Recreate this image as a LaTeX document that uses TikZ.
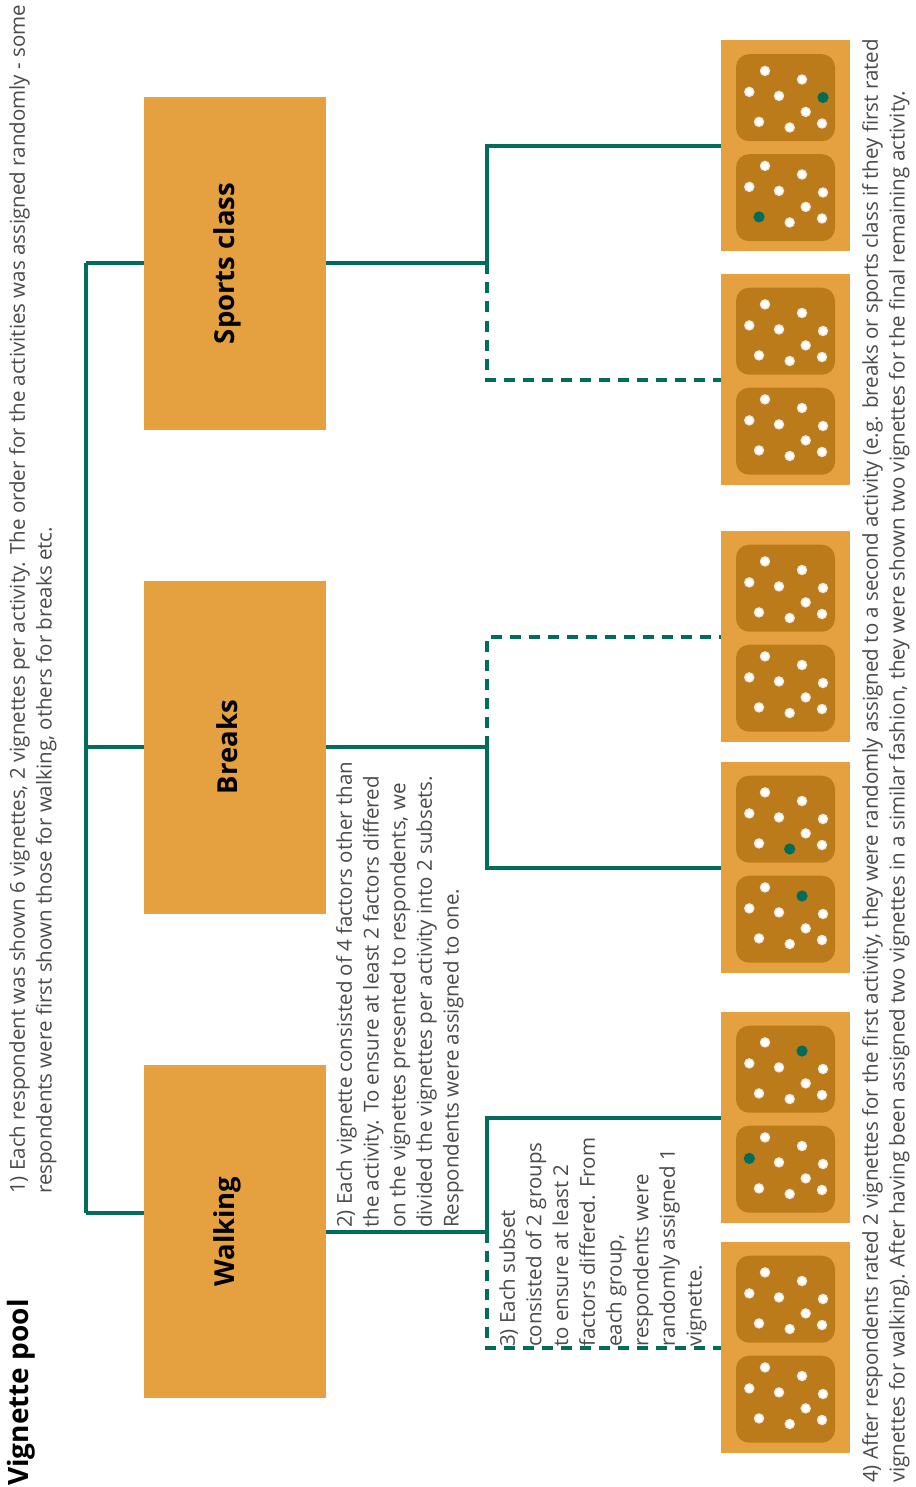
\documentclass[tikz,border=0pt]{standalone}
\usepackage{fontspec}
\setmainfont{Open Sans}
\definecolor{vorange}{HTML}{E5A13F}
\definecolor{vdark}{HTML}{BC7B1B}
\definecolor{vteal}{HTML}{006D5B}
\definecolor{vtext}{HTML}{4A4A4A}
\definecolor{vring}{HTML}{EDE6DA}
\newcommand\vigdots[4]{%
  \fill[vdark, rounded corners=13pt] (736,#2) rectangle ++(99,87);
  \foreach \i/\dx/\dy in {1/29/16.7,2/66/25.3,3/13.3/37.7,4/43/41.7,5/87/43.3,6/69.7/57.7,7/23/67.7,8/53.7/73.3,9/86/69.3}{%
    \ifnum\i=#3\relax
      \fill[vteal] ({736+\dx},{#2+\dy+#4}) circle (5.6pt);
    \else
      \fill[white, draw=vring, line width=1.2pt] ({736+\dx},{#2+\dy+#4}) circle (4.6pt);
    \fi
  }%
}
\newcommand\vigpanel[4]{%
  \node[panel] (#1) at (785.5,#2) {};
  \vigdots{}{#2-105.5+13.7}{#3}{0}
  \vigdots{}{#2-105.5+113.7}{#4}{-5}
}
\begin{document}
\begin{tikzpicture}[x=1pt, y=-1pt,
  panel/.style={fill=vorange, draw=none, minimum width=129pt, minimum height=211pt, inner sep=0pt},
  actbox/.style={fill=vorange, draw=none, minimum width=182pt, minimum height=333pt, inner sep=0pt},
  actlabel/.style={rotate=90, inner sep=0pt, font=\fontsize{27.5}{32}\selectfont\bfseries, text=black},
  note/.style={rotate=90, anchor=north west, inner sep=0pt, align=left, font=\fontsize{20.5}{26.7}\selectfont, text=vtext},
  conn/.style={draw=vteal, line width=4pt, line join=miter},
  dconn/.style={conn, dash pattern=on 11pt off 8pt}
]
\useasboundingbox (0,0) rectangle (915,1487);

% activity boxes
\node[actbox] (sports) at (235,263.5) {};
\node[actbox] (breaks) at (235,747) {};
\node[actbox] (walking) at (235,1231.5) {};
\node[actlabel] (lsports) at ([xshift=-8pt]sports.center) {Sports class};
\node[actlabel] (lbreaks) at ([xshift=-8pt]breaks.center) {Breaks};
\node[actlabel] (lwalking) at ([xshift=-8pt]walking.center) {Walking};

% vignette panels
\vigpanel{p1}{146}{5}{7}
\vigpanel{p2}{379.5}{0}{0}
\vigpanel{p3}{636.5}{0}{0}
\vigpanel{p4}{867.5}{8}{2}
\vigpanel{p5}{1117.5}{2}{3}
\vigpanel{p6}{1347.5}{0}{0}

% left trunk
\coordinate (t1) at (86,263.5);
\coordinate (t2) at (86,747);
\coordinate (t3) at (86,1213);
\draw[conn] (t1) -- (t3);
\draw[conn] (t1) -- (t1 -| sports.west);
\draw[conn] (t2) -- (t2 -| breaks.west);
\draw[conn] (t3) -- (t3 -| walking.west);

% right branches
\coordinate (js) at (487,263.5);
\coordinate (jb) at (487,747);
\coordinate (jw) at (487,1231.5);
\draw[conn] (sports.east) -- (js) -- (js |- p1.west) -- (p1.west);
\draw[dconn] (js) -- (js |- p2.west) -- (p2.west);
\draw[conn] (breaks.east) -- (jb) -- (jb |- p4.west) -- (p4.west);
\draw[dconn] (jb) -- (jb |- p3.west) -- (p3.west);
\draw[conn] (walking.east) -- (jw) -- (jw |- p5.west) -- (p5.west);
\draw[dconn] (jw) -- (jw |- p6.west) -- (p6.west);

% texts
\node[rotate=90, anchor=north west, inner sep=0pt, font=\fontsize{28}{32}\selectfont\bfseries] (title) at (7,1486) {Vignette pool};
\node[note] (n1) at (9,1194) {1) Each respondent was shown 6 vignettes, 2 vignettes per activity. The order for the activities was assigned randomly - some\\respondents were first shown those for walking, others for breaks etc.};
\node[note] (n2) at (336,1228) {2) Each vignette consisted of 4 factors other than\\the activity. To ensure at least 2 factors differed\\on the vignettes presented to respondents, we\\divided the vignettes per activity into 2 subsets.\\Respondents were assigned to one.};
\node[note] (n3) at (499,1347) {3) Each subset\\consisted of 2 groups\\to ensure at least 2\\factors differed. From\\each group,\\respondents were\\randomly assigned 1\\vignette.};
\node[note] (n4) at (862,1483) {4) After respondents rated 2 vignettes for the first activity, they were randomly assigned to a second activity (e.g. breaks or sports class if they first rated\\vignettes for walking). After having been assigned two vignettes in a similar fashion, they were shown two vignettes for the final remaining activity.};
\end{tikzpicture}
\end{document}
